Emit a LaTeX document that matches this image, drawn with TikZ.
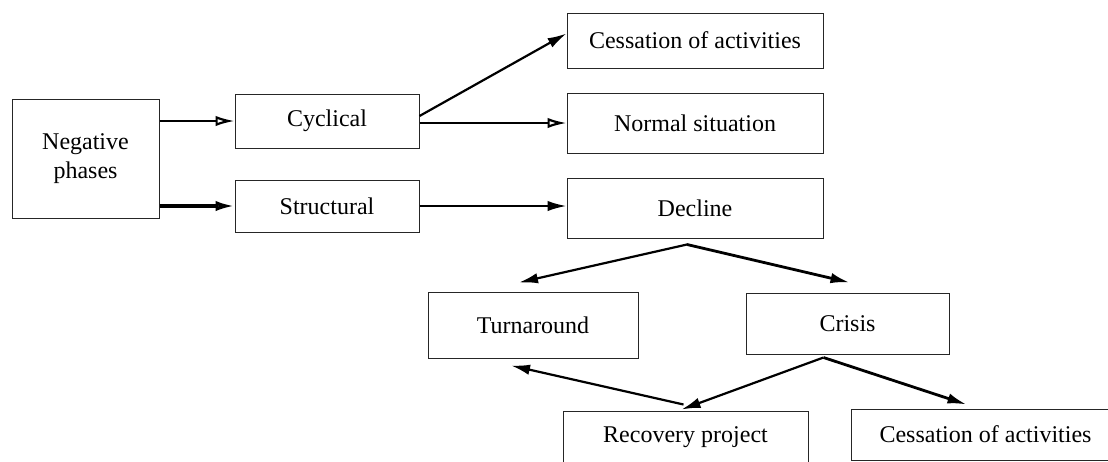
\documentclass[tikz,border=0pt]{standalone}
\usepackage{fontspec}
\setmainfont{Liberation Serif}
\usetikzlibrary{arrows.meta,calc}
\begin{document}
\begin{tikzpicture}[x=0.5pt,y=-0.5pt,every node/.style={font=\fontsize{12}{14.5}\selectfont},
   box/.style={draw=black!85,line width=0.5pt,align=center,inner sep=0pt},
   arr/.style={line width=1.1pt,-{Latex[length=9.5pt,width=5.2pt]}},
   arro/.style={line width=1.1pt,-{Latex[open,length=9.5pt,width=5.2pt]}}]
   \useasboundingbox (0,0) rectangle (1108,461);
   \clip (0,0) rectangle (1108,461);
   \node [box,minimum width=73.5pt,minimum height=59.5pt] (neg) at (85.5,158.5) {Negative\\phases};
   \node [box,minimum width=92pt,minimum height=27pt] (cyc) at (327,121) {Cyclical};
   \node [box,minimum width=92pt,minimum height=26pt] (str) at (327,206) {Structural};
   \node [box,minimum width=128pt,minimum height=27.5pt] (ces1) at (695,40.5) {Cessation of activities};
   \node [box,minimum width=128pt,minimum height=30pt] (norm) at (695,123) {Normal situation};
   \node [box,minimum width=128pt,minimum height=30pt] (decl) at (695,208) {Decline};
   \node [box,minimum width=105pt,minimum height=33pt] (turn) at (533,325) {Turnaround};
   \node [box,minimum width=101.5pt,minimum height=30.5pt] (cris) at (847.5,323.5) {Crisis};
   \node [box,minimum width=122.5pt,minimum height=26pt] (rec) at (685.5,437) {Recovery project};
   \node [box,minimum width=134.5pt,minimum height=25.5pt] (ces2) at (985.5,434.5) {Cessation of activities};
   \coordinate (dsplit) at ($(decl.south)+(-8,6)$);
   \coordinate (csplit) at ($(cris.south)+(-24,3)$);
   \coordinate (rtop) at ($(rec.north)+(-2,-6)$);
   \draw [arro] (cyc.west -| neg.east) -- (cyc.west);
   \draw [arro,line width=1.6pt] (str.west -| neg.east) -- (str.west);
   \draw [arr] ($(cyc.east)+(0,-5)$) -- ($(ces1.west)+(0,-7)$);
   \draw [arro] (cyc.east |- norm.west) -- (norm.west);
   \draw [arr] (str.east) -- (str.east -| decl.west);
   \draw [arr] (dsplit) -- ($(turn.north)+(-14,-9)$);
   \draw [arr,line width=1.4pt] (dsplit) -- ($(cris.north)+(2,-10)$);
   \draw [arr] (csplit) -- ($(rec.north)+(-4,-1)$);
   \draw [arr,line width=1.4pt] (csplit) -- ($(ces2.north)+(-19,-4)$);
   \draw [arr] (rtop) -- ($(turn.south)+(-22,7)$);
\end{tikzpicture}
\end{document}
